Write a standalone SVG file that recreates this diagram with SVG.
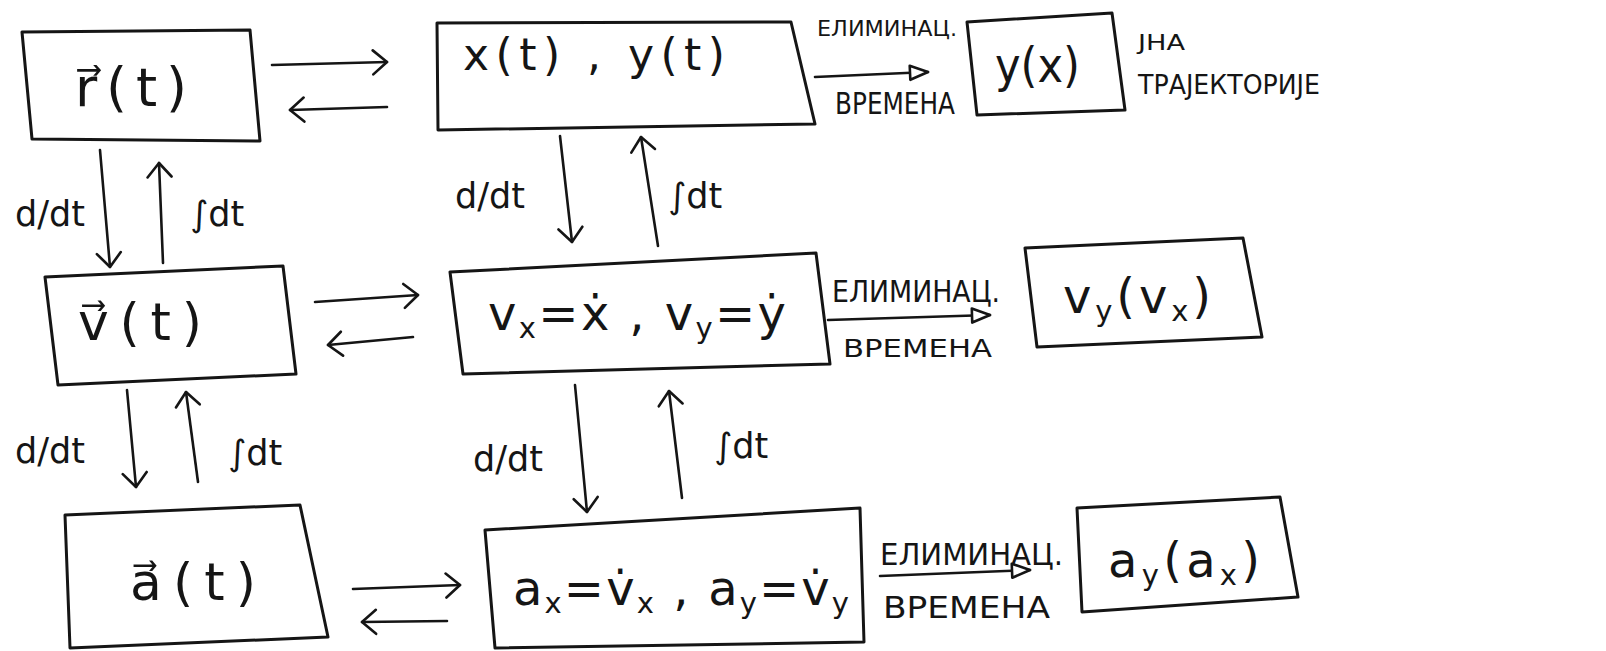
<svg xmlns="http://www.w3.org/2000/svg" width="1606" height="651" viewBox="0 0 1606 651">
<defs>
<style>
.box{fill:none;stroke:#151515;stroke-width:3;stroke-linejoin:round;stroke-linecap:round}
.ln{fill:none;stroke:#151515;stroke-width:2.6;stroke-linecap:round}
.t{font-family:"DejaVu Sans","Liberation Sans",sans-serif;fill:#151515}
.m{font-size:48px}
.lab{font-size:35px}
.sub{font-size:29px}
</style>
<marker id="chev" viewBox="0 0 18 28" refX="16" refY="14" markerWidth="18" markerHeight="28" markerUnits="userSpaceOnUse" orient="auto">
<path d="M2,2 L16,14 L2,26" fill="none" stroke="#151515" stroke-width="2.6" stroke-linecap="round" stroke-linejoin="round"/>
</marker>
<marker id="tri" viewBox="0 0 22 18" refX="20" refY="9" markerWidth="22" markerHeight="18" markerUnits="userSpaceOnUse" orient="auto">
<path d="M2,2 L20,9 L2,16 Z" fill="#fff" stroke="#151515" stroke-width="2.6" stroke-linejoin="round"/>
</marker>
</defs>
<rect width="1606" height="651" fill="#fff"/>

<g id="connectors">
<!-- row 1 horizontal -->
<path class="ln" d="M272,65 L387,62" marker-end="url(#chev)"/>
<path class="ln" d="M387,107 L290,110" marker-end="url(#chev)"/>
<path class="ln" d="M815,77 L928,72" marker-end="url(#tri)"/>
<!-- row 2 horizontal -->
<path class="ln" d="M315,302 L418,295" marker-end="url(#chev)"/>
<path class="ln" d="M413,337 L328,345" marker-end="url(#chev)"/>
<path class="ln" d="M828,320 L990,315" marker-end="url(#tri)"/>
<!-- row 3 horizontal -->
<path class="ln" d="M353,589 L460,585" marker-end="url(#chev)"/>
<path class="ln" d="M447,621 L362,622" marker-end="url(#chev)"/>
<path class="ln" d="M880,576 L1030,570" marker-end="url(#tri)"/>
<!-- column 1 vertical -->
<path class="ln" d="M100,150 L110,267" marker-end="url(#chev)"/>
<path class="ln" d="M163,263 L159,163" marker-end="url(#chev)"/>
<path class="ln" d="M127,390 L136,487" marker-end="url(#chev)"/>
<path class="ln" d="M198,482 L186,392" marker-end="url(#chev)"/>
<!-- column 2 vertical -->
<path class="ln" d="M560,136 L572,242" marker-end="url(#chev)"/>
<path class="ln" d="M658,246 L641,137" marker-end="url(#chev)"/>
<path class="ln" d="M575,385 L587,512" marker-end="url(#chev)"/>
<path class="ln" d="M682,498 L669,391" marker-end="url(#chev)"/>

<!-- labels -->
<text class="t lab" x="15" y="226">d/dt</text>
<text class="t lab" x="190" y="226">∫dt</text>
<text class="t lab" x="455" y="208">d/dt</text>
<text class="t lab" x="668" y="208">∫dt</text>
<text class="t lab" x="15" y="463">d/dt</text>
<text class="t lab" x="228" y="465">∫dt</text>
<text class="t lab" x="473" y="471">d/dt</text>
<text class="t lab" x="714" y="458">∫dt</text>

<text class="t" font-size="21" x="817" y="36" textLength="140" lengthAdjust="spacingAndGlyphs">ЕЛИМИНАЦ.</text>
<text class="t" font-size="30" x="835" y="114" textLength="120" lengthAdjust="spacingAndGlyphs">ВРЕМЕНА</text>
<text class="t" font-size="30" x="832" y="302" textLength="168" lengthAdjust="spacingAndGlyphs">ЕЛИМИНАЦ.</text>
<text class="t" font-size="24" x="843" y="357" textLength="149" lengthAdjust="spacingAndGlyphs">ВРЕМЕНА</text>
<text class="t" font-size="30" x="880" y="565" textLength="183" lengthAdjust="spacingAndGlyphs">ЕЛИМИНАЦ.</text>
<text class="t" font-size="30" x="883" y="618" textLength="167" lengthAdjust="spacingAndGlyphs">ВРЕМЕНА</text>
</g>

<g id="node-r">
<path class="box" d="M22,32 L250,30 L260,141 L32,139 Z"/>
<text class="t" font-size="54" x="75" y="106" textLength="112" lengthAdjust="spacing">r⃗(t)</text>
</g>

<g id="node-xy">
<path class="box" d="M437,23 L791,22 L815,124 L438,130 Z"/>
<text class="t" font-size="44" x="463" y="70" textLength="262" lengthAdjust="spacing">x(t) , y(t)</text>
</g>

<g id="node-yx">
<path class="box" d="M967,22 L1112,13 L1125,110 L977,115 Z"/>
<text class="t m" x="995" y="82" textLength="85" lengthAdjust="spacingAndGlyphs">y(x)</text>
</g>

<g id="note-trajectory">
<text class="t" font-size="21" x="1138" y="50" textLength="47" lengthAdjust="spacingAndGlyphs">ЈНА</text>
<text class="t" font-size="27" x="1138" y="94" textLength="182" lengthAdjust="spacingAndGlyphs">ТРАЈЕКТОРИЈЕ</text>
</g>

<g id="node-v">
<path class="box" d="M45,277 L283,266 L296,374 L58,385 Z"/>
<text class="t" font-size="52" x="78" y="340" textLength="124" lengthAdjust="spacing">v⃗(t)</text>
</g>

<g id="node-vxy">
<path class="box" d="M450,272 L816,253 L830,364 L463,374 Z"/>
<text class="t m" x="488" y="330" textLength="298" lengthAdjust="spacing">v<tspan class="sub" dy="8">x</tspan><tspan dy="-8">=ẋ , v</tspan><tspan class="sub" dy="8">y</tspan><tspan dy="-8">=ẏ</tspan></text>
</g>

<g id="node-vyvx">
<path class="box" d="M1025,248 L1243,238 L1262,337 L1037,347 Z"/>
<text class="t m" x="1063" y="313" textLength="148" lengthAdjust="spacing">v<tspan class="sub" dy="8">y</tspan><tspan dy="-8">(v</tspan><tspan class="sub" dy="8">x</tspan><tspan dy="-8">)</tspan></text>
</g>

<g id="node-a">
<path class="box" d="M65,515 L300,505 L328,637 L70,648 Z"/>
<text class="t" font-size="52" x="130" y="600" textLength="126" lengthAdjust="spacing">a⃗(t)</text>
</g>

<g id="node-axy">
<path class="box" d="M485,530 L860,508 L864,642 L495,648 Z"/>
<text class="t m" x="513" y="605" textLength="336" lengthAdjust="spacing">a<tspan class="sub" dy="8">x</tspan><tspan dy="-8">=v̇</tspan><tspan class="sub" dy="8">x</tspan><tspan dy="-8"> , a</tspan><tspan class="sub" dy="8">y</tspan><tspan dy="-8">=v̇</tspan><tspan class="sub" dy="8">y</tspan></text>
</g>

<g id="node-ayax">
<path class="box" d="M1077,508 L1280,497 L1298,597 L1082,612 Z"/>
<text class="t m" x="1108" y="577" textLength="152" lengthAdjust="spacing">a<tspan class="sub" dy="8">y</tspan><tspan dy="-8">(a</tspan><tspan class="sub" dy="8">x</tspan><tspan dy="-8">)</tspan></text>
</g>
</svg>
